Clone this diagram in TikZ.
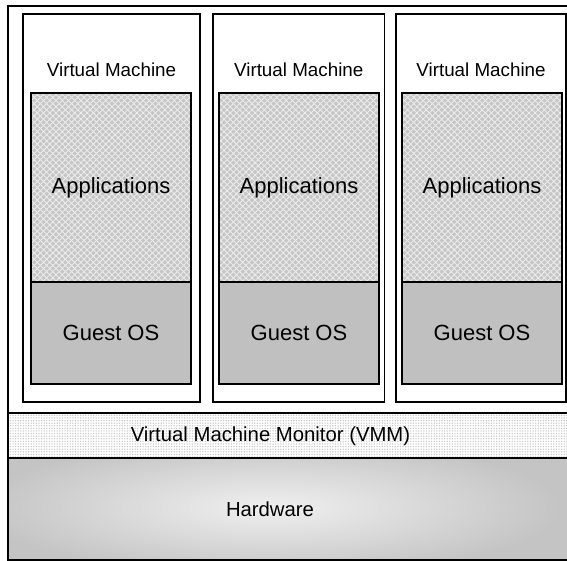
\documentclass[tikz,border=0pt]{standalone}
\usepackage{fontspec}
\setmainfont{Liberation Sans}
\usetikzlibrary{patterns.meta}
\definecolor{osgray}{HTML}{C0C0C0}
\definecolor{appgray}{HTML}{C6C6C6}
\definecolor{appline}{HTML}{ECECEC}
\definecolor{dotgray}{HTML}{C8C8C8}
\tikzset{
  frame/.style={draw, line width=1.5pt, fill=white},
  vmbox/.style={draw, line width=1.3pt, fill=white, minimum height=388pt, inner sep=0pt},
  appbox/.style={draw, line width=1.3pt, fill=appgray, minimum width=160pt, minimum height=189pt,
    inner sep=0pt, font=\fontsize{22}{25}\selectfont,
    postaction={pattern={Lines[angle=45,distance=4.4pt,line width=0.9pt]}, pattern color=appline},
    postaction={pattern={Lines[angle=-45,distance=4.4pt,line width=0.9pt]}, pattern color=appline},
    postaction={draw, line width=1.3pt}},
  osbox/.style={draw, line width=1.3pt, fill=osgray, minimum width=160pt, minimum height=102pt,
    inner sep=0pt, font=\fontsize{22}{25}\selectfont},
  vmlabel/.style={font=\fontsize{18.8}{22}\selectfont, inner sep=0pt},
  layerlabel/.style={font=\fontsize{20.3}{24}\selectfont, inner sep=0pt},
}
\begin{document}
\begin{tikzpicture}[x=1pt,y=-1pt]
  \useasboundingbox (0,0) rectangle (567,561);
  % outer frame of the whole stack
  \begin{scope}
    \clip (0,0) rectangle (567,561);
    \draw[frame] (8,6) rectangle (572,560);
    % monitor layer: fine dotted fill
    \path[fill=white] (8,413) rectangle (572,458);
    \path[pattern={Dots[distance=2.6pt,radius=0.75pt]}, pattern color=dotgray] (8,413) rectangle (572,458);
    % hardware layer: soft glow in the middle
    \begin{scope}
      \clip (8,458) rectangle (572,560);
      \path[fill=gray!46] (8,458) rectangle (572,560);
      \shade[inner color=gray!12, outer color=gray!46] (-20,440) rectangle (560,575);
    \end{scope}
    \draw[line width=1.5pt] (8,413) -- (572,413);
    \draw[line width=1.5pt] (8,458) -- (572,458);
    \draw[line width=1.5pt] (8,6) -- (572,6) (8,560) -- (572,560) (8,6) -- (8,560);
  \end{scope}
  \node[layerlabel] (vmm) at (270.5,436) {Virtual Machine Monitor (VMM)};
  \node[layerlabel] (hw) at (270,509) {Hardware};

  % virtual machines
  \node[vmbox, minimum width=177pt] (vm1) at (111.5,208) {};
  \node[vmbox, minimum width=171.5pt] (vm2) at (298.75,208) {};
  \node[vmbox, minimum width=170pt] (vm3) at (481,208) {};

  \node[vmlabel] (vml1) at (111.5,70) {Virtual Machine};
  \node[vmlabel] (vml2) at (298.75,70) {Virtual Machine};
  \node[vmlabel] (vml3) at (481,70) {Virtual Machine};

  \node[appbox] (app1) at (111,187.5) {Applications};
  \node[appbox] (app2) at (299,187.5) {Applications};
  \node[appbox] (app3) at (482,187.5) {Applications};

  \node[osbox] (os1) at (111,333) {Guest OS};
  \node[osbox] (os2) at (299,333) {Guest OS};
  \node[osbox] (os3) at (482,333) {Guest OS};
\end{tikzpicture}
\end{document}
